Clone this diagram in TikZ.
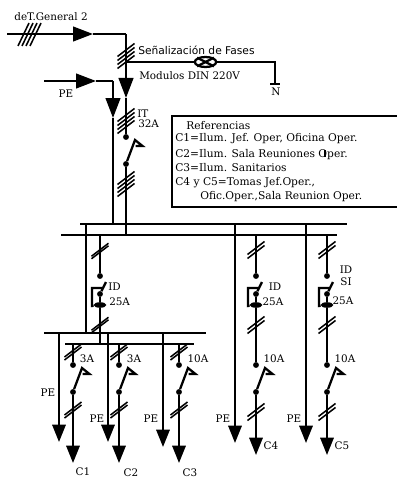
\documentclass[tikz,border=0pt]{standalone}
\usepackage{fontspec}
\setmainfont{DejaVu Serif}
\newfontfamily\sansfont{DejaVu Sans}
\usetikzlibrary{arrows.meta,shapes.geometric}
\tikzset{
  wire/.style={line width=1.7pt},
  slash/.style={line width=1.15pt},
  dot/.style={circle,fill=black,inner sep=0pt,minimum size=4.4pt},
  lens/.style={ellipse,fill=black,inner sep=0pt,minimum width=9.5pt,minimum height=4.2pt},
  txt/.style={inner sep=0pt,font=\fontsize{7.8}{9}\selectfont},
  reftxt/.style={txt,anchor=west,font=\fontsize{8}{9}\selectfont},
  bigtip/.style={wire,-{Triangle[length=13pt,width=10pt]}},
  midtip/.style={wire,-{Triangle[length=15pt,width=11pt]}},
}
\newcommand{\hatch}[4]{\foreach \k in {1,...,#3}
  \draw [slash,shift={(#1,#2+\k*#4-#3*#4/2-#4/2)}] (-8.5,6.5) -- (8.5,-6.5);}
\newcommand{\blade}[1]{\draw [wire] (#1) -- ++(9,-24) -- ++(7.5,6) -- ++(-7,0);}
\begin{document}
\begin{tikzpicture}[x=0.75pt, y=-0.75pt]
\useasboundingbox (0,0) rectangle (396,478);

% incoming feeders
\coordinate (in)  at (7,34);
\coordinate (tipa) at (93,34);
\coordinate (cor) at (126,34);
\coordinate (tipb) at (126,98);
\coordinate (pein) at (44,81);
\coordinate (tipc) at (96,81);
\coordinate (pecor) at (113,81);
\coordinate (tipd) at (113,118);
\draw [midtip] (in) to (tipa);
\draw [wire] (tipa) -- (cor);
\draw [midtip] (cor) to (tipb);
\draw [midtip] (pein) to (tipc);
\draw [wire] (tipc) -- (pecor);
\draw [midtip] (pecor) to (tipd);
\foreach \k in {0,1,2,3}
  \draw [slash,shift={(\k*4,0)}] (18,46) -- (29,23);
\node [txt] (tgen) at (51,17) {deT.General 2};
\node [txt] (tpe) at (66,94) {PE};

% signal lamp
\coordinate (sig) at (126,62);
\node [ellipse,draw,wire,inner sep=0pt,minimum width=16pt,minimum height=7.5pt] (lamp) at (205.5,62) {};
\coordinate (nc) at (275,62);
\coordinate (nb) at (275,84);
\draw [wire] (sig) -- (lamp);
\draw [wire] (lamp) -- (nc) -- (nb);
\draw [wire] (nb) +(-5,0) -- +(5,0);
\draw [wire] (lamp.north west) -- (lamp.south east);
\draw [wire] (lamp.north east) -- (lamp.south west);
\hatch{126}{56}{4}{4}
\node [txt,font=\sansfont\fontsize{8}{9}\selectfont,anchor=west] (tsen) at (138,50) {Señalización de Fases};
\node [txt,anchor=west] (tmod) at (139,76) {Modulos DIN 220V};
\node [txt] (tn) at (276,92) {N};

% main switch
\node [dot] (itt) at (126,137) {};
\node [dot] (itb) at (126,164) {};
\coordinate (bust) at (113,224);
\coordinate (busm) at (126,224);
\coordinate (busb) at (126,235);
\draw [wire] (tipb) -- (itt);
\draw [wire] (tipd) -- (bust);
\draw [wire] (itb) -- (busb);
\blade{itb}
\hatch{126}{121}{4}{4}
\hatch{126}{184}{4}{4}
\node [txt,anchor=west] (tit) at (137,114) {IT};
\node [txt,anchor=west] (tita) at (138,124) {32A};

% references
\node [draw,wire,outer sep=0pt,anchor=north west,minimum width=171pt,minimum height=68pt] (refs) at (172,116) {};
\node [reftxt] (r0) at (186,126) {Referencias};
\node [reftxt] (r1) at (175,139) {C1=Ilum. Jef. Oper, Oficina Oper.};
\node [reftxt] (r2) at (175,155) {C2=Ilum. Sala Reuniones Oper.};
\node [reftxt] (r3) at (175,168) {C3=Ilum. Sanitarios};
\node [reftxt] (r4) at (175,183) {C4 y C5=Tomas Jef.Oper.,};
\node [reftxt] (r5) at (200,197) {Ofic.Oper.,Sala Reunion Oper.};
\draw [line width=0.8pt] (325,150) -- (325,157);

% bus bars
\coordinate (bta) at (80,224);
\coordinate (btb) at (347,224);
\coordinate (bma) at (61,235);
\coordinate (bmb) at (337,235);
\coordinate (loa) at (44,333);
\coordinate (lob) at (206,333);
\coordinate (lma) at (65,344);
\coordinate (lmb) at (194,344);
\draw [wire] (bta) -- (btb);
\draw [wire] (bma) -- (bmb);
\draw [wire] (loa) -- (lob);
\draw [wire] (lma) -- (lmb);

% first differential
\node [dot] (ida) at (100,276) {};
\node [dot] (idb) at (100,294) {};
\node [lens] (idc) at (100,305) {};
\coordinate (pea) at (86,224);
\coordinate (peb) at (86,333);
\coordinate (ia) at (100,235);
\coordinate (ib) at (100,344);
\draw [wire] (pea) -- (peb);
\draw [wire] (ia) -- (ida);
\draw [wire] (idb) -- (idc);
\draw [wire] (idc) -- (ib);
\draw [wire] (idb) -- ++(6,-12);
\draw [wire] (102,288) -- (92,288) -- (92,306) -- (idc);
\hatch{100}{251}{2}{2.5}
\hatch{100}{325}{2}{2.5}
\node [txt,anchor=west] (tid) at (108,287) {ID};
\node [txt,anchor=west] (tida) at (109,302) {25A};

% circuit C1
\node [dot] (c1a) at (73,365) {};
\node [dot] (c1b) at (73,392) {};
\coordinate (c1t) at (73,344);
\coordinate (c1e) at (73,463);
\coordinate (pe1a) at (59,333);
\coordinate (pe1b) at (59,442);
\draw [wire] (c1t) -- (c1a);
\draw [bigtip] (c1b) to (c1e);
\draw [bigtip] (pe1a) to (pe1b);
\blade{c1b}
\hatch{73}{352}{2}{3}
\hatch{73}{410}{2}{3}
\node [txt] (t1a) at (87,359) {3A};
\node [txt] (t1p) at (48,393) {PE};
\node [txt] (t1c) at (83,472) {C1};

% circuit C2
\node [dot] (c2a) at (119,365) {};
\node [dot] (c2b) at (119,392) {};
\coordinate (c2t) at (119,344);
\coordinate (c2e) at (119,463);
\coordinate (pe2a) at (108,333);
\coordinate (pe2b) at (108,442);
\draw [wire] (c2t) -- (c2a);
\draw [bigtip] (c2b) to (c2e);
\draw [bigtip] (pe2a) to (pe2b);
\blade{c2b}
\hatch{119}{352}{2}{3}
\hatch{119}{410}{2}{3}
\node [txt] (t2a) at (134,359) {3A};
\node [txt] (t2p) at (97,419) {PE};
\node [txt] (t2c) at (131,473) {C2};

% circuit C3
\node [dot] (c3a) at (179,365) {};
\node [dot] (c3b) at (179,392) {};
\coordinate (c3t) at (179,344);
\coordinate (c3e) at (179,463);
\coordinate (pe3a) at (163,333);
\coordinate (pe3b) at (163,447);
\draw [wire] (c3t) -- (c3a);
\draw [bigtip] (c3b) to (c3e);
\draw [bigtip] (pe3a) to (pe3b);
\blade{c3b}
\hatch{179}{352}{2}{3}
\hatch{179}{410}{2}{3}
\node [txt] (t3a) at (198,359) {10A};
\node [txt] (t3p) at (151,419) {PE};
\node [txt] (t3c) at (190,473) {C3};

% circuit C4
\node [dot] (d4a) at (256,276) {};
\node [dot] (d4b) at (256,294) {};
\node [lens] (d4c) at (256,305) {};
\node [dot] (c4a) at (256,365) {};
\node [dot] (c4b) at (256,392) {};
\coordinate (c4t) at (256,235);
\coordinate (c4e) at (256,455);
\coordinate (pe4a) at (235,224);
\coordinate (pe4b) at (235,443);
\draw [wire] (c4t) -- (d4a);
\draw [wire] (d4b) -- (d4c);
\draw [wire] (d4c) -- (c4a);
\draw [bigtip] (c4b) to (c4e);
\draw [bigtip] (pe4a) to (pe4b);
\draw [wire] (d4b) -- ++(6,-12);
\draw [wire] (258,288) -- (248,288) -- (248,306) -- (d4c);
\blade{c4b}
\hatch{256}{250}{2}{4}
\hatch{256}{325}{2}{4}
\hatch{256}{412}{2}{4}
\node [txt] (t4i) at (275,287) {ID};
\node [txt] (t4d) at (273,302) {25A};
\node [txt] (t4a) at (274,359) {10A};
\node [txt] (t4p) at (223,419) {PE};
\node [txt] (t4c) at (271,446) {C4};

% circuit C5
\node [dot] (d5a) at (327,276) {};
\node [dot] (d5b) at (327,294) {};
\node [lens] (d5c) at (327,305) {};
\node [dot] (c5a) at (327,365) {};
\node [dot] (c5b) at (327,392) {};
\coordinate (c5t) at (327,235);
\coordinate (c5e) at (327,455);
\coordinate (pe5a) at (306,224);
\coordinate (pe5b) at (306,443);
\draw [wire] (c5t) -- (d5a);
\draw [wire] (d5b) -- (d5c);
\draw [wire] (d5c) -- (c5a);
\draw [bigtip] (c5b) to (c5e);
\draw [bigtip] (pe5a) to (pe5b);
\draw [wire] (d5b) -- ++(6,-12);
\draw [wire] (329,288) -- (319,288) -- (319,306) -- (d5c);
\blade{c5b}
\hatch{327}{250}{2}{4}
\hatch{327}{325}{2}{4}
\hatch{327}{412}{2}{4}
\node [txt] (t5i) at (346,270) {ID};
\node [txt] (t5s) at (346,282) {SI};
\node [txt] (t5d) at (343,301) {25A};
\node [txt] (t5a) at (345,359) {10A};
\node [txt] (t5p) at (294,419) {PE};
\node [txt] (t5c) at (342,446) {C5};
\end{tikzpicture}
\end{document}
